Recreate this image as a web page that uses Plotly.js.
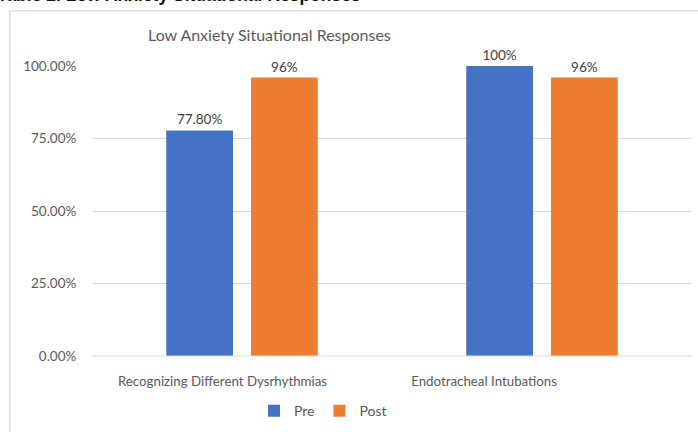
<!DOCTYPE html>
<html>
<head>
<meta charset="utf-8">
<script src="https://cdn.plot.ly/plotly-3.0.1.min.js"></script>
<style>html,body{margin:0;padding:0;background:#fff;}#chart{width:698px;height:432px;}</style>
</head>
<body>
<div id="chart"></div>
<script>
const categories = ["Recognizing Different Dysrhythmias", "Endotracheal Intubations"];
const preValues = [0.778, 1.00];
const postValues = [0.96, 0.96];
const preLabels = ["77.80%", "100%"];
const postLabels = ["96%", "96%"];
const yTickValues = [0, 0.25, 0.5, 0.75, 1.0];

const catIdx = categories.map((c, i) => i);
const FONT = "Lato, 'Open Sans', sans-serif";

const traces = [
  {
    type: "bar", name: "Pre", x: catIdx, y: preValues,
    text: preLabels, textposition: "outside", cliponaxis: false,
    textfont: {family: FONT, size: 13.5, color: "#404040"},
    marker: {color: "#4472C4"}, hoverinfo: "none"
  },
  {
    type: "bar", name: "Post", x: catIdx, y: postValues,
    text: postLabels, textposition: "outside", cliponaxis: false,
    textfont: {family: FONT, size: 13.5, color: "#404040"},
    marker: {color: "#ED7D31"}, hoverinfo: "none"
  }
];

const layout = {
  width: 698, height: 432,
  margin: {l: 92, r: 6, t: 66, b: 75, pad: 0},
  paper_bgcolor: "#ffffff", plot_bgcolor: "#ffffff",
  font: {family: FONT, color: "#595959", size: 13},
  barmode: "group", bargap: 0.435, bargroupgap: 0.212,
  showlegend: true,
  legend: {orientation: "h", x: 0.385, xanchor: "center", y: -0.186, yanchor: "middle",
           font: {family: FONT, size: 14, color: "#595959"}, itemwidth: 30, traceorder: "normal"},
  xaxis: {
    range: [-0.5, 1.5], showgrid: false, zeroline: false, showline: false,
    tickmode: "array", tickvals: [-0.065, 0.807], ticktext: categories,
    ticks: "outside", ticklen: 13, tickcolor: "rgba(0,0,0,0)",
    tickfont: {family: FONT, size: 13.3, color: "#595959"}, fixedrange: true
  },
  yaxis: {
    range: [0, 1.0], tickmode: "array", tickvals: yTickValues, tickformat: ".2%",
    showgrid: true, gridcolor: "#d9d9d9", gridwidth: 1, zeroline: false, showline: false,
    ticks: "outside", ticklen: 12, tickcolor: "rgba(0,0,0,0)",
    tickfont: {family: FONT, size: 13.5, color: "#595959"}, fixedrange: true
  },
  shapes: [
    {type: "line", xref: "paper", yref: "paper", x0: 0, x1: 1, y0: 0, y1: 0,
     line: {color: "#d9d9d9", width: 1}},
    {type: "rect", xref: "paper", yref: "paper", x0: -0.137, x1: 1.05, y0: -0.3, y1: 1.19,
     line: {color: "#d9d9d9", width: 1.2}, fillcolor: "rgba(0,0,0,0)", layer: "below"}
  ],
  annotations: [
    {text: "Low Anxiety Situational Responses", xref: "paper", yref: "paper",
     x: (269 - 92) / 600, y: (357 - 34) / 291, xanchor: "center", yanchor: "middle",
     showarrow: false, font: {family: FONT, size: 16, color: "#595959"}},
    {text: "<b>Table 2. Low Anxiety Situational Responses</b>", xref: "paper", yref: "paper",
     x: -0.162, y: (357 - 7) / 291, xanchor: "left", yanchor: "bottom",
     showarrow: false, font: {family: "Liberation Sans, Arial, sans-serif", size: 17.5, color: "#111111"}}
  ]
};

Plotly.newPlot("chart", traces, layout, {displayModeBar: false, staticPlot: true});
</script>
</body>
</html>
